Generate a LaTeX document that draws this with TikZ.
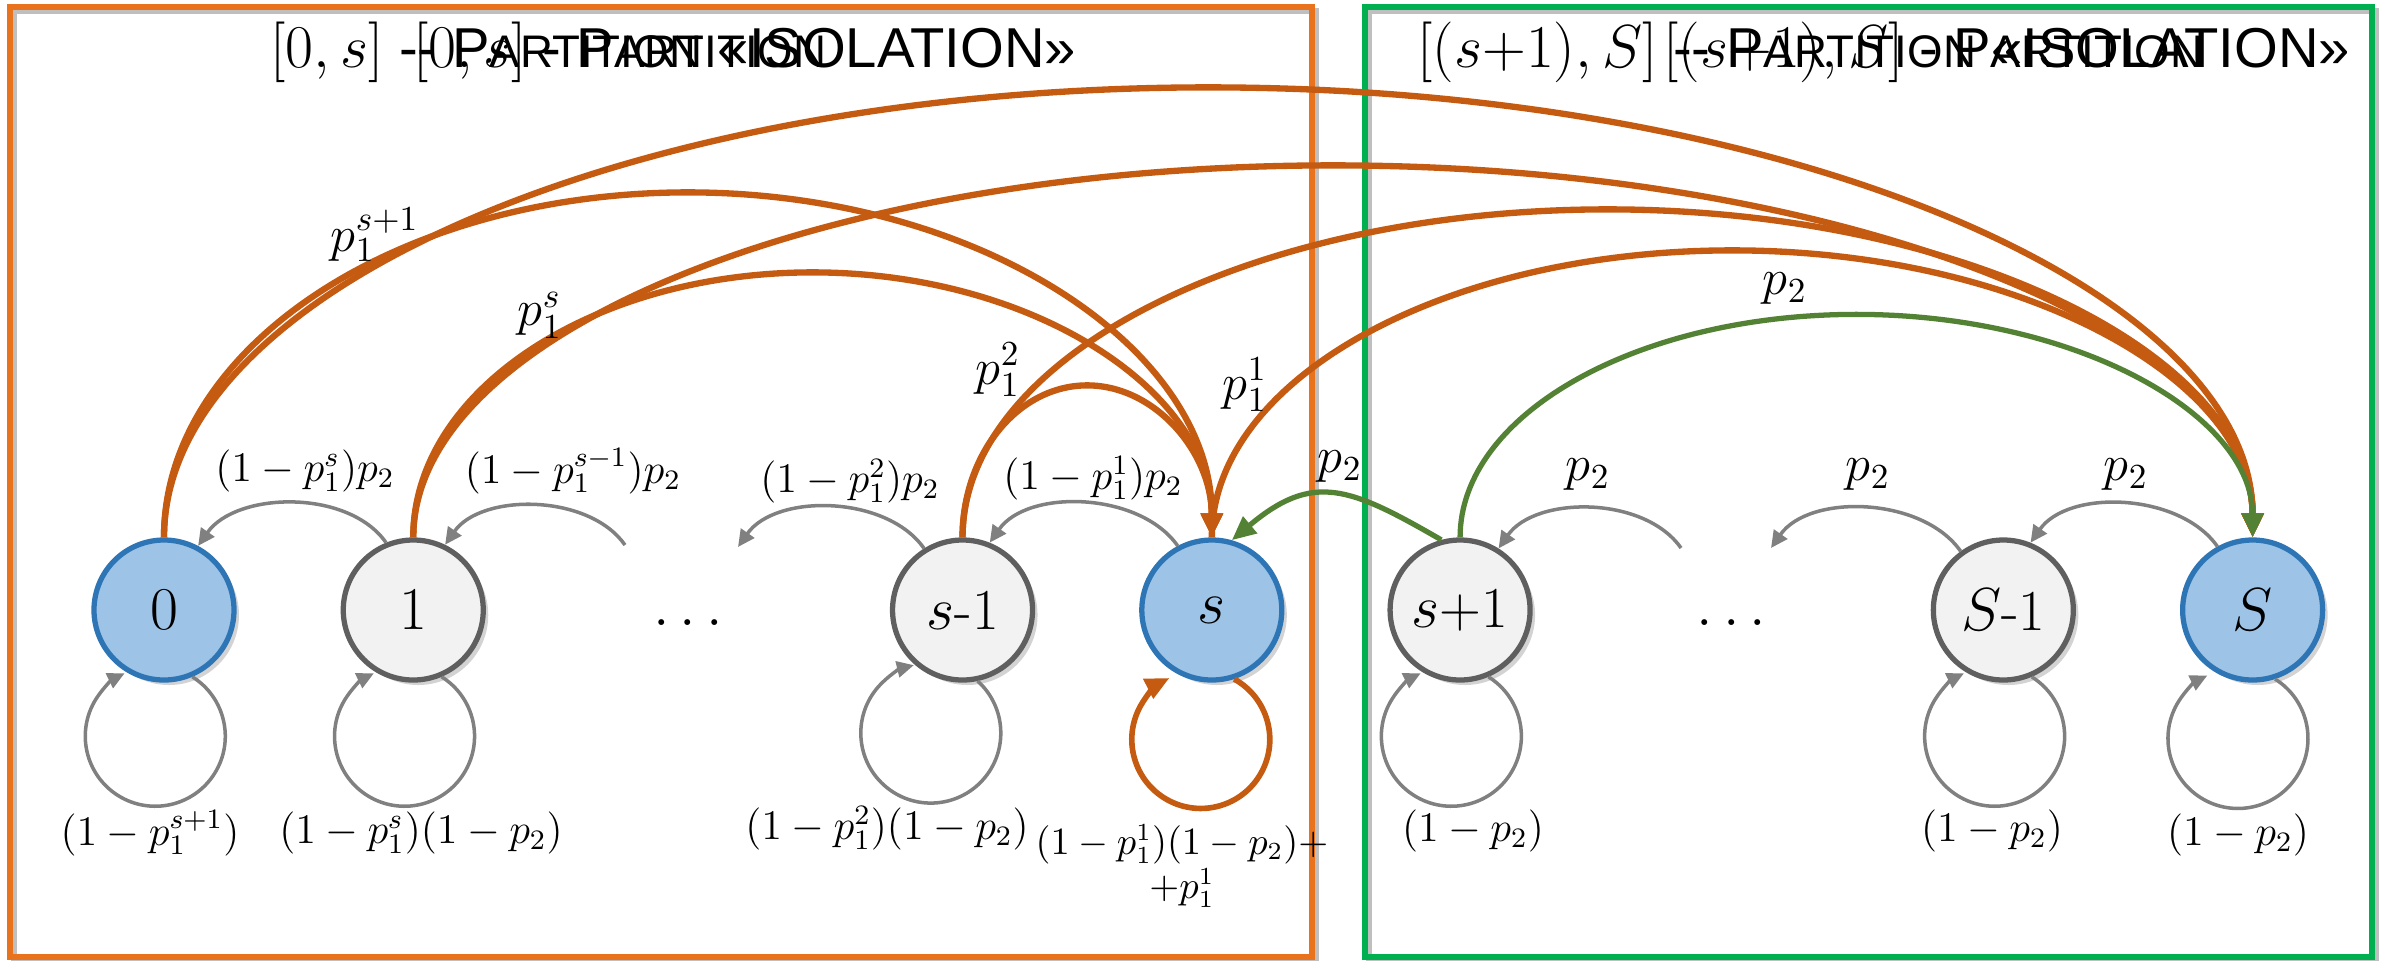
\documentclass[tikz,border=0pt]{standalone}
\usepackage{fontspec}
\newfontfamily\titlefont{Liberation Sans}
\usetikzlibrary{positioning, arrows.meta, calc, shadows}

\definecolor{arcorange}{HTML}{C55A11}
\definecolor{boxorange}{HTML}{E8731C}
\definecolor{boxgreen}{HTML}{00B050}
\definecolor{arcgreen}{HTML}{548235}
\definecolor{arcgrey}{HTML}{808080}
\definecolor{stateblue}{HTML}{9DC3E6}
\definecolor{stateline}{HTML}{2E75B6}
\definecolor{statefill}{HTML}{F2F2F2}
\definecolor{stategrey}{HTML}{5F5F5F}

\newcommand{\fsc}[2]{#1{\fontsize{13}{14}\selectfont #2}}

\begin{document}
\begin{tikzpicture}[
  >={Triangle[length=1.7mm, width=1.6mm]},
  every node/.style={font=\fontsize{12}{14}\selectfont},
  state/.style    = {circle, minimum size=1.4cm, inner sep=0pt, line width=1.5pt,
                     font=\fontsize{16.5}{18}\selectfont,
                     drop shadow={shadow xshift=0.05cm, shadow yshift=-0.05cm, opacity=0.35}},
  endstate/.style = {state, draw=stateline, fill=stateblue},
  midstate/.style = {state, draw=stategrey, fill=statefill},
  part/.style     = {line width=1.5pt},
  title/.style    = {anchor=west, inner xsep=0pt, font=\titlefont\fontsize{16}{18}\selectfont},
  back/.style     = {->, arcgrey, line width=1pt},
  selfloop/.style = {->, arcgrey, line width=1pt},
  orarc/.style    = {-{Triangle[length=2.4mm, width=2.1mm]}, arcorange, line width=1.8pt},
  grarc/.style    = {-{Triangle[length=2.4mm, width=2.1mm]}, arcgreen, line width=1.5pt},
  plab/.style     = {font=\fontsize{14}{16}\selectfont},
  llab/.style     = {font=\fontsize{11.5}{13}\selectfont},
]
  \useasboundingbox (0,0) rectangle (23.86,-9.60);

  % partitions
  \draw[part, black!25] (0.14,-0.11) rectangle (13.16,-9.61);
  \draw[part, black!25] (13.69,-0.11) rectangle (23.76,-9.61);
  \draw[part, boxorange] (0.10,-0.07) rectangle (13.12,-9.57);
  \draw[part, boxgreen] (13.65,-0.07) rectangle (23.72,-9.57);

  \node[title] (tl)  at (2.70,-0.52)  {$[0,s]$ -- \fsc{P}{ARTITION} «ISOLATION»};
  \node[title] (tl2) at (4.13,-0.52)  {$[0,s]$ - \fsc{P}{ARTITION}};
  \node[title] (tr)  at (14.17,-0.52) {$[(s{+}1),S]$ -- \fsc{P}{ARTITION} «ISOLATION»};
  \node[title] (tr2) at (16.63,-0.52) {$[(s{+}1),S]$ - \fsc{P}{ARTITION}};

  % states
  \node[endstate]                     (n0)  at (1.64,-6.10) {$0$};
  \node[midstate, right=1.04cm of n0]  (n1)  {$1$};
  \node[midstate, right=4.04cm of n1]  (nsm) {$s$-1};
  \node[endstate, right=1.04cm of nsm] (ns)  {$s$};
  \node[midstate, right=1.03cm of ns]  (nsp) {$s$+1};
  \node[midstate, right=3.98cm of nsp] (nSm) {$S$-1};
  \node[endstate, right=1.04cm of nSm] (nS)  {$S$};
  \node[font=\fontsize{16}{18}\selectfont] (dl) at ($(n1)!.5!(nsm)+(0,-0.13)$) {$\dots$};
  \node[font=\fontsize{16}{18}\selectfont] (dr) at ($(nsp)!.5!(nSm)+(0,-0.13)$) {$\dots$};
  \coordinate (g1) at (6.25,-5.45);
  \coordinate (g2) at (7.38,-5.47);
  \coordinate (g3) at (16.81,-5.48);
  \coordinate (g4) at (17.71,-5.48);

  % one step back
  \foreach \a/\b in {n1.112/n0.62, g1/n1.64, nsm.122/g2, ns.118/nsm.68, g3/nsp.58, nSm.126/g4, nS.119/nSm.68}
    \draw[back] (\a) to[out=125, in=55, looseness=.9] (\b);
  \node (b10)  at (3.05,-4.71)  {$(1-p_1^s)p_2$};
  \node (bd1)  at (5.73,-4.71)  {$(1-p_1^{s-1})p_2$};
  \node (bsm)  at (8.50,-4.81)  {$(1-p_1^2)p_2$};
  \node (bs)   at (10.93,-4.78) {$(1-p_1^1)p_2$};
  \node[plab] (bdp) at (15.88,-4.75) {$p_2$};
  \node[plab] (bSm) at (18.68,-4.75) {$p_2$};
  \node[plab] (bS)  at (21.26,-4.75) {$p_2$};

  % self loops
  \foreach \n/\a/\s/\e in {n0/-67/58/-244, n1/-67/58/-244, nsm/-78/48/-256, nsp/-67/58/-244, nSm/-67/58/-244, nS/-72/58/-244}
    \draw[selfloop] (\n.\a) arc[start angle=\s, end angle=\e, radius=0.70];
  \draw[orarc, line width=1.6pt] (ns.-72) arc[start angle=61, end angle=-243, radius=0.69];
  \node[llab] (l0)   at (1.50,-8.33)  {$(1-p_1^{s+1})$};
  \node[llab] (l1)   at (4.21,-8.33)  {$(1-p_1^s)(1-p_2)$};
  \node[llab] (lsm)  at (8.87,-8.28)  {$(1-p_1^2)(1-p_2)$};
  \node[llab, font=\fontsize{10.5}{12.5}\selectfont, align=center] (ls) at (11.82,-8.66) {$(1-p_1^1)(1-p_2)+$\\$+p_1^1$};
  \node[llab] (lsp)  at (14.73,-8.31) {$(1-p_2)$};
  \node[llab] (lSm)  at (19.92,-8.31) {$(1-p_2)$};
  \node[llab] (lS)   at (22.38,-8.35) {$(1-p_2)$};

  % jumps to s and S
  \foreach \a/\b/\h in {n0/ns/3.45, n1/ns/2.65, nsm/ns/1.52, n0/nS/4.50, n1/nS/3.72, nsm/nS/3.28, ns/nS/2.87}
    \draw[orarc] let \p1=(\a.north), \p2=(\b.north), \n1={(\x2-\x1)/2} in
      (\p1) arc[start angle=180, end angle=0, x radius=\n1, y radius=\h cm];
  \draw[grarc] let \p1=(nsp.north), \p2=(nS.north), \n1={(\x2-\x1)/2} in
    (\p1) arc[start angle=180, end angle=0, x radius=\n1, y radius=2.23cm];
  \draw[grarc] (nsp.105) to[out=150, in=40, looseness=1.3] (ns.74);
  \node[plab] (j0)  at (3.75,-2.35)  {$p_1^{s+1}$};
  \node[plab] (j1)  at (5.40,-3.15)  {$p_1^s$};
  \node[plab] (jsm) at (9.98,-3.70)  {$p_1^2$};
  \node[plab] (js)  at (12.45,-3.85) {$p_1^1$};
  \node[plab] (jp)  at (13.40,-4.67) {$p_2$};
  \node[plab] (jP)  at (17.85,-2.89) {$p_2$};
\end{tikzpicture}
\end{document}
